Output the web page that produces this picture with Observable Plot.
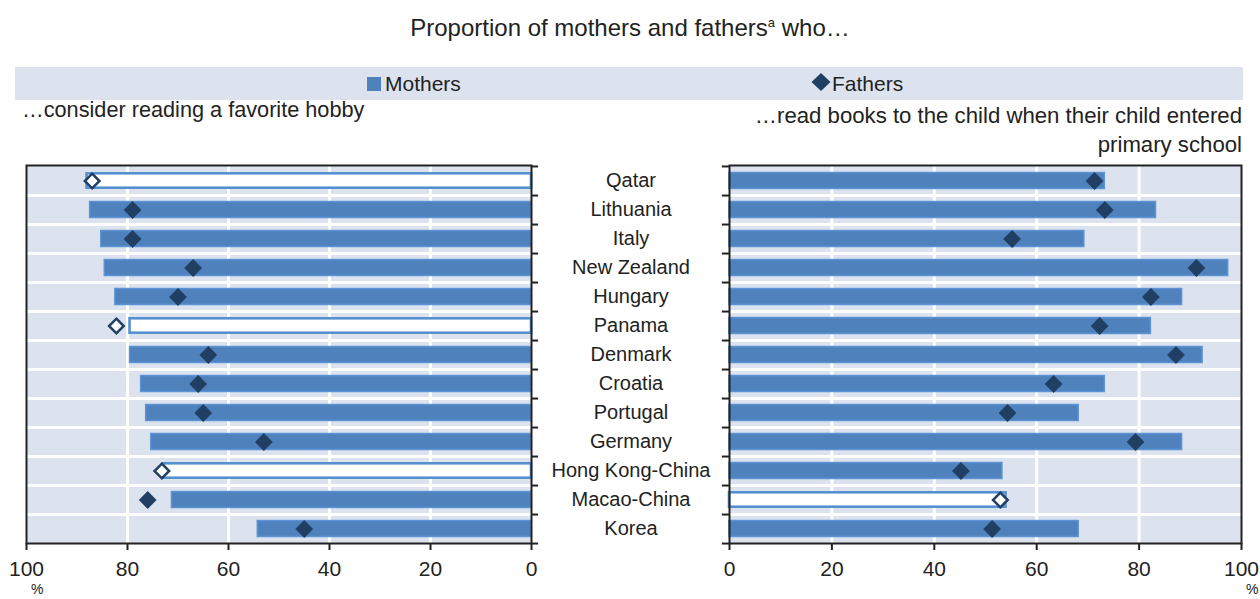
<!DOCTYPE html>
<html>
<head>
<meta charset="utf-8">
<script src="https://cdn.jsdelivr.net/npm/d3@7"></script>
<script src="https://cdn.jsdelivr.net/npm/@observablehq/plot@0.6"></script>
<style>
  html, body { margin: 0; padding: 0; background: #ffffff; }
  #page { position: relative; width: 1260px; height: 599px; overflow: hidden; font-family: "Liberation Sans", Arial, sans-serif; color: #222; }
  .abs { position: absolute; white-space: nowrap; line-height: 1; }
  #title { left: 0; width: 1260px; top: 16px; text-align: center; font-size: 24px; }
  #title sup { font-size: 13px; vertical-align: 9px; line-height: 0; }
  #legend { left: 15px; top: 67px; width: 1228px; height: 33px; background: #dce3ef; }
  .legtxt { font-size: 21px; top: 73px; }
  .sub { font-size: 21.7px; }
  #leftPlot { position: absolute; left: 0; top: 150px; }
  #rightPlot { position: absolute; left: 630px; top: 150px; }
  svg { overflow: visible; }
</style>
</head>
<body>
<div id="page">
  <div id="title" class="abs">Proportion of mothers and fathers<sup>a</sup> who…</div>
  <div id="legend" class="abs"></div>
  <svg class="abs" style="left:367px; top:77px;" width="14" height="14"><rect width="14" height="14" fill="#4f81bd"></rect></svg>
  <div class="abs legtxt" style="left:385px;">Mothers</div>
  <svg class="abs" style="left:811px; top:73px;" width="20" height="18"><path d="M10,0 L19.5,9 L10,18 L0.5,9 Z" fill="#213f63"></path></svg>
  <div class="abs legtxt" style="left:832px;">Fathers</div>
  <div class="abs sub" style="left:22px; top:99px;">…consider reading a favorite hobby</div>
  <div class="abs sub" style="right:18px; top:101px; text-align:right; line-height:29px; font-size:22.2px;">…read books to the child when their child entered<br>primary school</div>
  <div id="leftPlot"></div>
  <div id="rightPlot"></div>
</div>
<script>
// ---- data ----
const countries = ["Qatar", "Lithuania", "Italy", "New Zealand", "Hungary", "Panama", "Denmark", "Croatia", "Portugal", "Germany", "Hong Kong-China", "Macao-China", "Korea"];
const mothersHobby = [88, 87.4, 85.2, 84.5, 82.4, 79.5, 79.5, 77.3, 76.3, 75.3, 73, 71.2, 54.2];
const fathersHobby = [87, 79, 79, 67, 70, 82.2, 64, 66, 65, 53, 73.2, 76, 45];
const mothersRead = [73.3, 83.3, 69.3, 97.4, 88.4, 82.3, 92.4, 73.3, 68.2, 88.4, 53.3, 54, 68.2];
const fathersRead = [71.3, 73.3, 55.2, 91.2, 82.3, 72.3, 87.2, 63.3, 54.3, 79.3, 45.2, 52.9, 51.3];
// countries drawn with hollow (not significant) markers
const hollowHobby = ["Qatar", "Panama", "Hong Kong-China"];
const hollowRead = ["Macao-China"];
const xTicks = [0, 20, 40, 60, 80, 100];
const gridTicks = [20, 40, 60, 80];
const unitLabel = "%";

// ---- styles ----
const BG = "#dce3ef", BAR = "#4f81bd", BAR_EDGE = "#5b93d4", DIAM = "#213f63", INK = "#222";

function panel(mothers, fathers, hollow, side) {
  const left = side === "left";
  const rows = countries.map((c, i) => ({country: c, mother: mothers[i], father: fathers[i], hollow: hollow.includes(c)}));
  const W = 630, H = 449, mt = 15, mb = 56;
  const ml = left ? 26 : 99, mr = left ? 99 : 19;
  const bw = (H - mt - mb) / countries.length;
  const solid = rows.filter(d => !d.hollow), open = rows.filter(d => d.hollow);
  const marks = [
    Plot.frame({fill: BG}),
    Plot.ruleX(gridTicks, {stroke: "white", strokeWidth: 3}),
    Plot.ruleY(countries.slice(0, -1), {dy: bw / 2, stroke: "white", strokeWidth: 3}),
    Plot.barX(solid, {y: "country", x1: 0, x2: "mother", fill: BAR, stroke: BAR_EDGE, strokeWidth: 1.5, insetTop: 6.5, insetBottom: 6.5}),
    Plot.barX(open, {y: "country", x1: 0, x2: "mother", fill: "white", stroke: "#5590d0", strokeWidth: 2.6, insetTop: 7.3, insetBottom: 7.3}),
    Plot.dot(solid, {x: "father", y: "country", symbol: "diamond2", r: 8, fill: DIAM, stroke: "none"}),
    Plot.dot(open, {x: "father", y: "country", symbol: "diamond2", r: 6.6, fill: "white", stroke: DIAM, strokeWidth: 2.5}),
    Plot.ruleY(countries, {x1: 0, x2: -1.4, dy: bw / 2, stroke: INK, strokeWidth: 2}),
    Plot.ruleY(countries.slice(0, 1), {x1: 0, x2: -1.4, dy: -bw / 2, stroke: INK, strokeWidth: 2}),
    Plot.frame({stroke: INK, strokeWidth: 2}),
    Plot.axisX(xTicks, {tickSize: 7, tickPadding: 11, fontSize: 21, strokeWidth: 2, label: null}),
    Plot.text([unitLabel], {x: () => d3.max(xTicks), text: d => d, frameAnchor: "bottom", dy: 50, dx: 17, textAnchor: "end", fontSize: 14, fill: INK})
  ];
  if (left) {
    marks.push(Plot.text(countries, {y: d => d, text: d => d, frameAnchor: "right", dx: 99.5, textAnchor: "middle", fontSize: 20, fill: INK}));
  }
  return Plot.plot({
    width: W, height: H,
    marginLeft: ml, marginRight: mr, marginTop: mt, marginBottom: mb,
    style: {fontFamily: "'Liberation Sans', Arial, sans-serif", color: INK, background: "transparent", overflow: "visible"},
    x: {domain: [0, 100], reverse: left, label: null},
    y: {domain: countries, padding: 0, axis: null, label: null},
    marks
  });
}

document.getElementById("leftPlot").appendChild(panel(mothersHobby, fathersHobby, hollowHobby, "left"));
document.getElementById("rightPlot").appendChild(panel(mothersRead, fathersRead, hollowRead, "right"));
</script>
</body>
</html>
